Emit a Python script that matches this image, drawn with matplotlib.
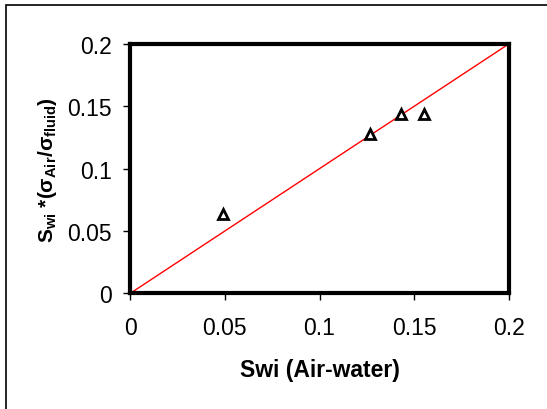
import matplotlib
matplotlib.use("Agg")
import matplotlib.pyplot as plt
from matplotlib.patches import Rectangle

# datos
swi_air_water = [0.049, 0.1265, 0.143, 0.155]
swi_scaled = [0.0635, 0.128, 0.144, 0.144]
linea_x = [0, 0.2]
linea_y = [0, 0.2]
ticks = [0, 0.05, 0.1, 0.15, 0.2]
tick_labels = ["0", "0.05", "0.1", "0.15", "0.2"]

plt.rcParams['font.family'] = ['Liberation Sans', 'DejaVu Sans']
plt.rcParams['mathtext.fontset'] = 'custom'
plt.rcParams['mathtext.rm'] = 'Liberation Sans:bold'
plt.rcParams['mathtext.it'] = 'Liberation Sans:bold'
plt.rcParams['mathtext.bf'] = 'Liberation Sans:bold'

fig = plt.figure(figsize=(5.47, 4.10), dpi=100)
ax = fig.add_axes([130.3 / 547, 1 - 294.3 / 410, 378.4 / 547, 249.3 / 410])

# borde exterior (solo se ven izquierda y arriba)
fig.patches.append(Rectangle((5.5 / 547, -0.5), 2, 1 - 6 / 410 + 0.5,
                             transform=fig.transFigure, fill=False,
                             edgecolor='black', linewidth=1.2))

ax.plot(linea_x, linea_y, color='red', linewidth=1, zorder=2)
ax.plot(swi_air_water, swi_scaled, linestyle='none', marker='^',
        markersize=6.5, markerfacecolor='white', markeredgecolor='black',
        markeredgewidth=2, zorder=3)

ax.set_xlim(0, 0.2)
ax.set_ylim(0, 0.2)
ax.set_xticks(ticks)
ax.set_xticklabels(tick_labels)
ax.set_yticks(ticks)
ax.set_yticklabels(tick_labels)
ax.tick_params(direction='out', length=5, width=1, labelsize=16.5, pad=8)
ax.tick_params(axis='x', pad=11)

for s in ax.spines.values():
    s.set_linewidth(3)

ax.set_xlabel("Swi (Air-water)", fontsize=16.5, fontweight='bold', labelpad=14)
ax.set_ylabel(r"$\mathrm{S_{wi}}$ $\mathrm{*(σ_{Air}/σ_{fluid})}$", fontsize=15,
              fontweight='bold', labelpad=6)

plt.savefig("out.png", dpi=100)
